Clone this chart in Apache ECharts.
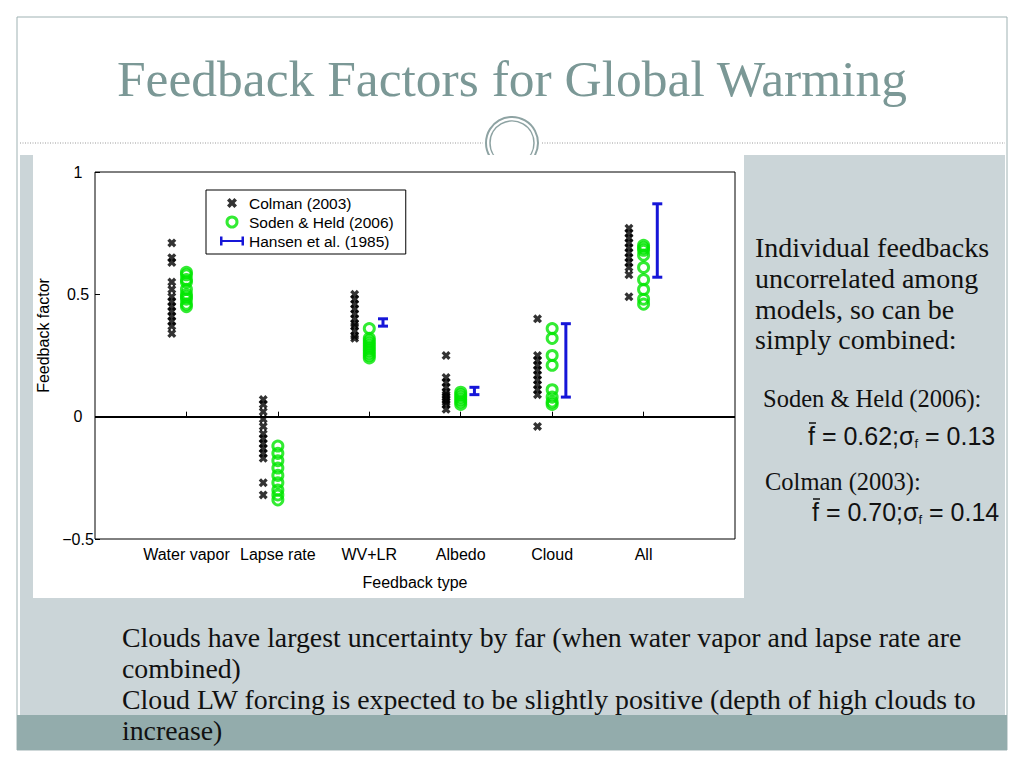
<!DOCTYPE html>
<html><head><meta charset="utf-8">
<script src="https://cdn.jsdelivr.net/npm/echarts@6/dist/echarts.min.js"></script>
<style>html,body{margin:0;padding:0;background:#fff}#c{width:1024px;height:768px}</style>
</head><body><div id="c"></div>
<script>
// ---------- data ----------
const categories = ['Water vapor', 'Lapse rate', 'WV+LR', 'Albedo', 'Cloud', 'All'];
const yTicks = [-0.5, 0, 0.5, 1];

const colmanWaterVapor = [0.71, 0.65, 0.63, 0.55, 0.52, 0.49, 0.47, 0.45, 0.43, 0.41, 0.39, 0.37, 0.34];
const colmanLapseRate  = [0.07, 0.05, 0.02, -0.01, -0.04, -0.07, -0.09, -0.11, -0.13, -0.15, -0.17, -0.27, -0.32];
const colmanWvLr       = [0.50, 0.48, 0.46, 0.44, 0.42, 0.40, 0.38, 0.37, 0.35, 0.33, 0.32];
const colmanAlbedo     = [0.25, 0.16, 0.14, 0.12, 0.10, 0.09, 0.08, 0.07, 0.06, 0.05, 0.03];
const colmanCloud      = [0.40, 0.25, 0.23, 0.21, 0.19, 0.17, 0.15, 0.13, 0.11, 0.09, -0.04];
const colmanAll        = [0.77, 0.75, 0.73, 0.71, 0.69, 0.67, 0.65, 0.63, 0.61, 0.58, 0.49];

const sodenWaterVapor = [0.59, 0.58, 0.56, 0.55, 0.52, 0.50, 0.49, 0.48, 0.46, 0.45];
const sodenLapseRate  = [-0.12, -0.15, -0.18, -0.21, -0.24, -0.27, -0.30, -0.32, -0.34];
const sodenWvLr       = [0.36, 0.32, 0.31, 0.30, 0.29, 0.28, 0.27, 0.26, 0.25, 0.24];
const sodenAlbedo     = [0.10, 0.09, 0.08, 0.07, 0.06, 0.05];
const sodenCloud      = [0.36, 0.32, 0.25, 0.21, 0.11, 0.08, 0.06, 0.05];
const sodenAll        = [0.70, 0.69, 0.68, 0.66, 0.61, 0.56, 0.52, 0.48, 0.46];

const hansenLow  = [null, null, 0.37, 0.09, 0.08, 0.57];
const hansenHigh = [null, null, 0.40, 0.12, 0.38, 0.87];

// ---------- build ----------
const colmanSets = [colmanWaterVapor, colmanLapseRate, colmanWvLr, colmanAlbedo, colmanCloud, colmanAll];
const sodenSets = [sodenWaterVapor, sodenLapseRate, sodenWvLr, sodenAlbedo, sodenCloud, sodenAll];
const colmanShift = -0.16, sodenShift = 0, hansenShift = 0.15;

const colmanData = [];
colmanSets.forEach((arr, i) => arr.forEach(v => colmanData.push([i + 1 + colmanShift, v])));
const sodenData = [];
sodenSets.forEach((arr, i) => arr.forEach(v => sodenData.push([i + 1 + sodenShift, v])));
const hansenData = [];
hansenLow.forEach((lo, i) => { if (lo !== null) hansenData.push([i + 1 + hansenShift, lo, hansenHigh[i]]); });

const crossPath = 'path://M2.6,0 L5,2.4 L7.4,0 L10,2.6 L7.6,5 L10,7.4 L7.4,10 L5,7.6 L2.6,10 L0,7.4 L2.4,5 L0,2.6 Z';
const errPath = 'path://M0,0H2.5V3.5H21.5V0H24V9H21.5V5.5H2.5V9H0Z';
const GREEN = '#00e600', BLUE = '#1616d8';
const SANS = '"Liberation Sans", Arial, sans-serif';
const SERIF = '"Liberation Serif", serif';
const FS = 16;

function txt(text, x, y, size, opts) {
  opts = opts || {};
  return {
    type: 'text', z: 5, silent: true,
    style: {
      text: text, x: x, y: y, font: size + 'px ' + (opts.family || SERIF),
      fill: opts.fill || '#111', align: opts.align || 'left', textAlign: opts.align || 'left',
      verticalAlign: 'middle', textVerticalAlign: 'middle'
    }
  };
}
function formula(mean, sd, x, y) {
  return {
    type: 'text', z: 5, silent: true,
    style: {
      x: x, y: y, align: 'left', textAlign: 'left', verticalAlign: 'middle', textVerticalAlign: 'middle',
      text: '{m|f = ' + mean + ';σ}{s|f}{m| = ' + sd + '}',
      rich: {
        m: { font: '25px ' + SANS, fill: '#111', lineHeight: 28 },
        s: { font: '13px ' + SANS, fill: '#111', lineHeight: 20, verticalAlign: 'bottom' }
      }
    }
  };
}

const chart = echarts.init(document.getElementById('c'), null, { renderer: 'svg', width: 1024, height: 768 });

const graphics = [
  { type: 'rect', z: -30, silent: true, shape: { x: 17, y: 17, width: 990, height: 733 }, style: { fill: '#fff', stroke: '#9fb2b3', lineWidth: 1 } },
  { type: 'line', z: -25, silent: true, shape: { x1: 20, y1: 143, x2: 483, y2: 143 }, style: { stroke: '#9a9a9a', lineWidth: 1, lineDash: [1, 1.5] } },
  { type: 'line', z: -25, silent: true, shape: { x1: 542, y1: 143, x2: 1005, y2: 143 }, style: { stroke: '#9a9a9a', lineWidth: 1, lineDash: [1, 1.5] } },
  { type: 'circle', z: -25, silent: true, shape: { cx: 512, cy: 143, r: 26 }, style: { fill: '#fff', stroke: '#8ea3a3', lineWidth: 2 } },
  { type: 'circle', z: -25, silent: true, shape: { cx: 512, cy: 143, r: 22 }, style: { fill: 'none', stroke: '#8ea3a3', lineWidth: 1.5 } },
  { type: 'rect', z: -20, silent: true, shape: { x: 20, y: 155, width: 985, height: 595 }, style: { fill: '#cbd5d8' } },
  { type: 'rect', z: -19, silent: true, shape: { x: 17, y: 715, width: 990, height: 35 }, style: { fill: '#93acac' } },
  { type: 'rect', z: -18, silent: true, shape: { x: 33, y: 155, width: 711, height: 443 }, style: { fill: '#fff' } },
  txt('Feedback Factors for Global Warming', 512, 78, 51.5, { align: 'center', fill: '#7b9896' }),
  txt('Individual feedbacks', 755, 247, 28),
  txt('uncorrelated among', 755, 278, 28),
  txt('models, so can be', 755, 309, 28),
  txt('simply combined:', 755, 339, 28),
  txt('Soden & Held (2006):', 763, 398, 24.5),
  formula('0.62', '0.13', 808, 436),
  { type: 'line', z: 6, silent: true, shape: { x1: 809, y1: 423, x2: 816, y2: 423 }, style: { stroke: '#111', lineWidth: 1.5 } },
  txt('Colman (2003):', 765, 481, 24.5),
  formula('0.70', '0.14', 812, 512),
  { type: 'line', z: 6, silent: true, shape: { x1: 813, y1: 499, x2: 820, y2: 499 }, style: { stroke: '#111', lineWidth: 1.5 } },
  txt('Clouds have largest uncertainty by far (when water vapor and lapse rate are', 122, 637, 27.8),
  txt('combined)', 122, 668, 27.8),
  txt('Cloud LW forcing is expected to be slightly positive (depth of high clouds to', 122, 699, 27.8),
  txt('increase)', 122, 730, 27.8)
];

const option = {
  animation: false,
  backgroundColor: '#fff',
  textStyle: { fontFamily: SANS },
  graphic: { elements: graphics },
  grid: { left: 95, top: 172, width: 640, height: 367, show: true, borderColor: '#000', borderWidth: 1, backgroundColor: 'transparent' },
  legend: {
    left: 206, top: 190, orient: 'vertical', selectedMode: false,
    padding: [4, 12, 4, 14], itemGap: 1, itemWidth: 24, itemHeight: 10,
    borderColor: '#000', borderWidth: 1, backgroundColor: '#fff', borderRadius: 0,
    textStyle: { fontFamily: SANS, fontSize: 15.5, color: '#000', lineHeight: 18 },
    data: [
      { name: 'Colman (2003)', icon: crossPath, itemStyle: { color: '#000' } },
      { name: 'Soden & Held (2006)', icon: 'circle', itemStyle: { color: 'rgba(0,0,0,0)', borderColor: GREEN, borderWidth: 3 } },
      { name: 'Hansen et al. (1985)', icon: errPath, itemStyle: { color: BLUE } }
    ]
  },
  xAxis: {
    type: 'value', min: 0, max: 7, interval: 1,
    name: 'Feedback type', nameLocation: 'middle', nameGap: 35,
    nameTextStyle: { fontFamily: SANS, fontSize: FS, color: '#000' },
    axisLine: { show: false },
    splitLine: { show: false },
    axisTick: { show: true, inside: true, length: 5, lineStyle: { color: '#000' }, customValues: [1, 2, 3, 4, 5, 6] },
    axisLabel: {
      customValues: [1, 2, 3, 4, 5, 6], margin: 7,
      fontFamily: SANS, fontSize: FS, color: '#000',
      formatter: v => categories[Math.round(v) - 1] || ''
    }
  },
  yAxis: {
    type: 'value', min: -0.5, max: 1, interval: 0.5,
    name: 'Feedback factor', nameLocation: 'middle', nameGap: 40, nameRotate: 90,
    nameTextStyle: { fontFamily: SANS, fontSize: FS, color: '#000', padding: [0, 0, 0, 40] },
    axisLine: { show: false },
    splitLine: { show: false },
    axisTick: { show: true, inside: true, length: 5, lineStyle: { color: '#000' }, customValues: yTicks },
    axisLabel: {
      customValues: yTicks, align: 'center', margin: 17,
      fontFamily: SANS, fontSize: FS, color: '#000',
      formatter: v => (v < 0 ? '\u2212' + Math.abs(v) : String(v))
    }
  },
  series: [
    {
      name: 'Colman (2003)', type: 'scatter', data: colmanData, z: 3,
      symbol: crossPath, symbolSize: 9, itemStyle: { color: '#000' }, silent: true,
      emphasis: { disabled: true },
      markLine: {
        silent: true, symbol: 'none', label: { show: false }, animation: false,
        lineStyle: { color: '#000', width: 2, type: 'solid' },
        data: [{ yAxis: 0 }]
      }
    },
    {
      name: 'Soden & Held (2006)', type: 'scatter', data: sodenData, z: 4,
      symbol: 'circle', symbolSize: 10, silent: true, emphasis: { disabled: true },
      itemStyle: { color: 'rgba(0,0,0,0)', borderColor: GREEN, borderWidth: 3 }
    },
    {
      name: 'Hansen et al. (1985)', type: 'custom', data: hansenData, z: 5, silent: true,
      encode: { x: 0, y: [1, 2] },
      itemStyle: { color: BLUE },
      renderItem: (params, api) => {
        const x = api.value(0), lo = api.value(1), hi = api.value(2);
        const p1 = api.coord([x, lo]), p2 = api.coord([x, hi]);
        const w = 5;
        const st = { stroke: BLUE, lineWidth: 3 };
        return {
          type: 'group', children: [
            { type: 'line', shape: { x1: p1[0], y1: p1[1], x2: p2[0], y2: p2[1] }, style: st },
            { type: 'line', shape: { x1: p1[0] - w, y1: p1[1], x2: p1[0] + w, y2: p1[1] }, style: st },
            { type: 'line', shape: { x1: p2[0] - w, y1: p2[1], x2: p2[0] + w, y2: p2[1] }, style: st }
          ]
        };
      }
    }
  ]
};
chart.setOption(option);
</script>
</body></html>
